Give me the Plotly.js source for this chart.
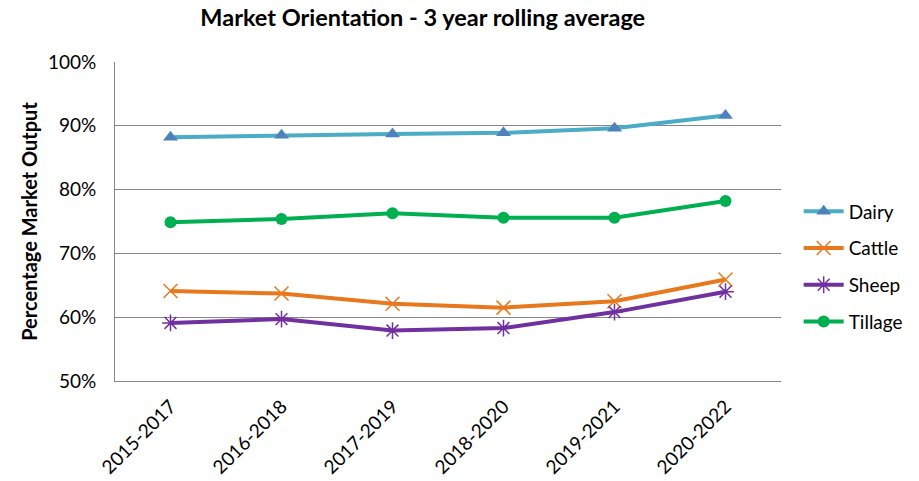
<!DOCTYPE html>
<html>
<head>
<meta charset="utf-8">
<script src="https://cdn.plot.ly/plotly-3.0.1.min.js"></script>
<style>body{margin:0;background:#fff;} #chart{width:919px;height:481px;}</style>
</head>
<body>
<div id="chart"></div>
<script>
const categories = ["2015-2017","2016-2018","2017-2019","2018-2020","2019-2021","2020-2022"];
const dairy   = [0.882, 0.885, 0.887, 0.889, 0.896, 0.916];
const cattle  = [0.641, 0.637, 0.621, 0.615, 0.625, 0.659];
const sheep   = [0.591, 0.597, 0.579, 0.583, 0.608, 0.640];
const tillage = [0.749, 0.754, 0.763, 0.756, 0.756, 0.782];
const yTicks = [0.5,0.6,0.7,0.8,0.9,1.0];

const font = "Lato, 'Open Sans', sans-serif";
function tr(name, y, lineColor, marker, group){
  return {x: categories, y: y, name: name, type: 'scatter', mode: 'lines+markers',
    line: {color: lineColor, width: 4}, marker: marker, legendgroup: group};
}
const traces = [
  tr("Dairy", dairy, "#4BACC6", {symbol:'triangle-up', size:13, color:'#4F81BD'}, 'a'),
  tr("Cattle", cattle, "#E8781E", {symbol:'x-thin-open', size:14, line:{color:'#F5C79A', width:1.5}}, 'b'),
  tr("Sheep", sheep, "#7030A0", {symbol:'asterisk-open', size:14, line:{color:'#A98BC9', width:1.5}}, 'c'),
  tr("Tillage", tillage, "#00B050", {symbol:'circle', size:12, color:'#00B050'}, 'd')
];
const layout = {
  width: 919, height: 481,
  margin: {l:115, r:137, t:62, b:100},
  paper_bgcolor: '#fff', plot_bgcolor: '#fff',
  title: {text: "<b>Market Orientation - 3 year rolling average</b>", x: 0.46, xanchor:'center', y: 0.963, yanchor:'middle',
          font: {family: font, size: 23.5, color: '#000'}},
  xaxis: {type:'category', tickvals: categories, ticktext: categories, tickangle: -45,
          showgrid:false, showline:true, linecolor:'#868686', linewidth:1, ticks:'outside', ticklen:6, tickcolor:'rgba(0,0,0,0)',
          tickfont:{family: font, size: 19, color:'#000'}, zeroline:false, range:[-0.5,5.5]},
  yaxis: {range:[0.5,1.0], tickvals: yTicks, tickformat: '.0%', showgrid:true, gridcolor:'#868686', gridwidth:1,
          showline:true, linecolor:'#868686', linewidth:1, ticks:'outside', ticklen:14, tickcolor:'rgba(0,0,0,0)', zeroline:false,
          tickfont:{family: font, size: 19, color:'#000'},
          title:{text:'<b>Percentage Market Output</b>', font:{family: font, size:20, color:'#000'}, standoff: 4}},
  legend: {x: 1.025, xanchor:'left', y: 0.359, yanchor:'middle', font:{family: font, size:19, color:'#000'},
           tracegroupgap: 9, itemwidth: 40, bgcolor:'rgba(0,0,0,0)'},
  showlegend: true
};
Plotly.newPlot('chart', traces, layout, {displayModeBar:false, staticPlot:true});
</script>
</body>
</html>
